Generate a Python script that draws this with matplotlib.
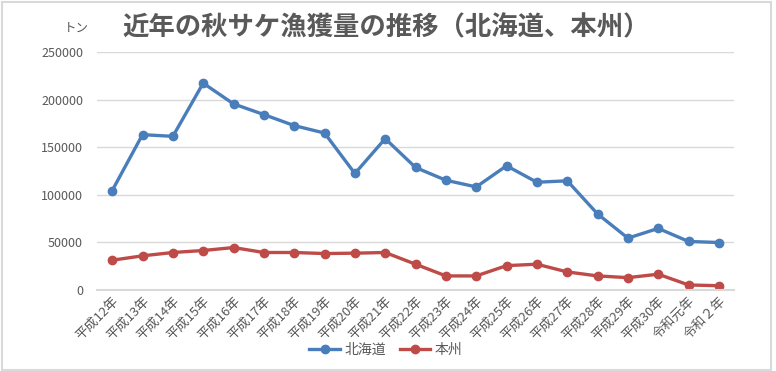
import matplotlib
matplotlib.use("Agg")
import matplotlib.pyplot as plt
from matplotlib.patches import Rectangle

plt.rcParams['font.family'] = ['Noto Sans CJK JP', 'DejaVu Sans']

# 年度ラベル
nen = ["平成12年", "平成13年", "平成14年", "平成15年", "平成16年", "平成17年",
       "平成18年", "平成19年", "平成20年", "平成21年", "平成22年", "平成23年",
       "平成24年", "平成25年", "平成26年", "平成27年", "平成28年", "平成29年",
       "平成30年", "令和元年", "令和２年"]

# 漁獲量（トン）、グラフから読み取り
hokkaido = [104400, 163200, 161400, 217300, 195500, 184300, 172700, 164900,
            122400, 159000, 128700, 115300, 108300, 130500, 113200, 114700,
            79900, 54500, 64700, 51000, 49900]
honshu = [31300, 35900, 39400, 41500, 44600, 39400, 39400, 38300, 38700,
          39400, 27100, 14800, 14800, 25600, 27100, 19000, 14800, 13000,
          16600, 5300, 4500]

gray = "#595959"
fig = plt.figure(figsize=(7.76, 3.71), dpi=100)
ax = fig.add_axes([0.125, 0.2183, 0.821, 0.6415])

x = range(len(nen))
ax.plot(x, hokkaido, color="#4A7EBB", lw=2.4, marker="o", ms=6, label="北海道")
ax.plot(x, honshu, color="#BE4B48", lw=2.4, marker="o", ms=6, label="本州")

ax.set_xlim(-0.5, len(nen) - 0.5)
ax.set_ylim(0, 250000)
ax.set_yticks(range(0, 250001, 50000))
ax.yaxis.grid(True, color="#D9D9D9", lw=1)
ax.set_axisbelow(True)
for s in ["top", "right", "left"]:
    ax.spines[s].set_visible(False)
ax.spines["bottom"].set_color("#D9D9D9")
ax.spines["bottom"].set_linewidth(1.5)
ax.tick_params(axis="both", length=0, colors=gray, labelsize=9)
ax.tick_params(axis="y", pad=10)
ax.tick_params(axis="x", labelsize=9.5)
ax.set_xticks(list(x))
ax.set_xticklabels(nen, rotation=45, ha="right", rotation_mode="anchor")

fig.text(0.497, 0.925, "近年の秋サケ漁獲量の推移（北海道、本州）", fontsize=19,
         fontweight="bold", color=gray, ha="center", va="center")
fig.text(0.098, 0.925, "トン", fontsize=9, color=gray, ha="center", va="center")

fig.legend(loc="center", bbox_to_anchor=(0.497, 0.058), ncol=2, frameon=False,
           fontsize=10, labelcolor=gray, handlelength=2.2, columnspacing=1.0,
           handletextpad=0.3)

fig.patches.append(Rectangle((0.002, 0.004), 0.992, 0.99, transform=fig.transFigure,
                             fill=False, edgecolor="#D9D9D9", lw=1.5))

fig.savefig("out.png", dpi=100)
